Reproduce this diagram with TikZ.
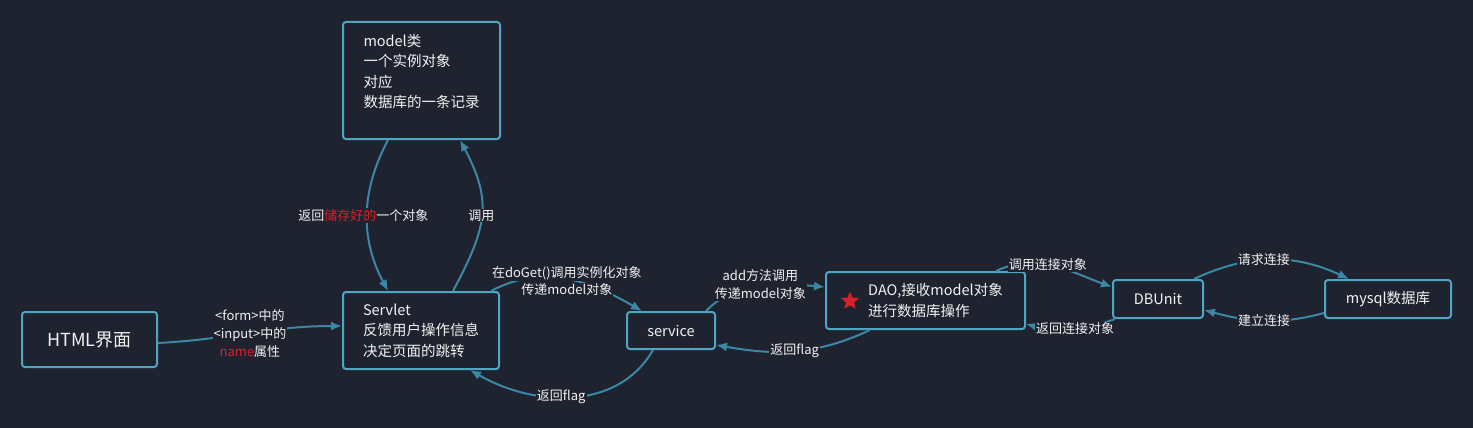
\documentclass[tikz,border=0pt]{standalone}
\usepackage{fontspec}
\setmainfont{Noto Sans CJK SC}
\usetikzlibrary{arrows.meta,positioning,shapes.geometric}
\definecolor{BgDark}{HTML}{1F2330}
\definecolor{BoxEdge}{HTML}{4EA6C2}
\definecolor{LinkBlue}{HTML}{3A88A5}
\definecolor{TextWhite}{HTML}{F2F2F2}
\definecolor{MarkRed}{HTML}{D8202A}
% one label line on its own dark patch
\newcommand{\lblline}[1]{{\setlength{\fboxsep}{1pt}\colorbox{BgDark}{#1}}}
\tikzset{
    % Base box style
    basenode/.style={
        draw=BoxEdge,
        fill=BgDark,
        line width=2pt,
        rounded corners=3pt,
        text=TextWhite,
        align=left,
        inner sep=0pt,
        font=\fontsize{14.5}{20.5}\selectfont
    },
    % Small box
    smallbox/.style={
        basenode,
        align=center,
        minimum height=37pt
    },
    % Connector
    myarrow/.style={
        -{Latex[length=11pt,width=9pt]},
        line width=2pt,
        draw=LinkBlue
    },
    % Connector label
    linklabel/.style={
        fill=BgDark,
        text=TextWhite,
        inner sep=1pt,
        align=center,
        font=\fontsize{13}{18}\selectfont
    }
}
\begin{document}
\begin{tikzpicture}[x=1pt,y=1pt]
    \path[use as bounding box, fill=BgDark] (0,0) rectangle (1473,-428);

    % Boxes
    \node[basenode, align=center, minimum width=135pt, minimum height=55pt,
          font=\fontsize{18}{22}\selectfont] (html) at (89.5,-339.5) {HTML界面};
    \node[basenode, minimum width=157pt, minimum height=117pt, text depth=19pt] (model) at (421.5,-80.5)
        {model类\\一个实例对象\\对应\\数据库的一条记录};
    \node[basenode, minimum width=156pt, minimum height=77pt] (servlet) at (421,-330.5)
        {Servlet\\反馈用户操作信息\\决定页面的跳转};
    \node[smallbox, minimum width=88pt] (service) at (671,-330.5) {service};
    \node[basenode, minimum width=199pt, minimum height=57pt] (dao) at (925.5,-300.5)
        {\hspace*{20pt}DAO,接收model对象\\\hspace*{20pt}进行数据库操作};
    \node[star, star points=5, star point ratio=2.2, fill=MarkRed, inner sep=0pt,
          minimum size=19pt] (daostar) at ([xshift=25pt,yshift=-0.5pt]dao.west) {};
    \node[smallbox, minimum width=90pt, minimum height=38pt] (dbunit) at (1158,-299) {DBUnit};
    \node[smallbox, minimum width=126pt, minimum height=38pt] (mysql) at (1388,-299) {mysql数据库};

    % Connectors
    \draw[myarrow] ([yshift=-3.5pt]html.east) to[out=3, in=180]
        node[linklabel] {<form>中的\\<input>中的\\\textcolor{MarkRed}{name}属性}
        ([yshift=4.5pt]servlet.west);
    \draw[myarrow] ([xshift=-33.5pt]model.south) to[out=-118, in=118]
        node[linklabel, pos=0.5, xshift=-4pt] {返回\textcolor{MarkRed}{储存好的}一个对象}
        ([xshift=-33pt]servlet.north);
    \draw[myarrow] ([xshift=32pt]servlet.north) to[out=62, in=-62, looseness=1.2]
        node[linklabel] {调用} ([xshift=38.5pt]model.south);
    \draw[myarrow] ([xshift=-9pt]servlet.north east) to[out=28, in=150]
        node[linklabel, fill=none, inner sep=0pt, pos=0.5, yshift=-2pt, font=\fontsize{13}{17}\selectfont]
        {\lblline{在doGet()调用实例化对象}\\\lblline{传递model对象}}
        ([xshift=-29pt]service.north);
    \draw[myarrow] ([xshift=-10pt]service.north east) to[out=45, in=175]
        node[linklabel, pos=0.5] {add方法调用\\传递model对象}
        ([yshift=13.5pt]dao.west);
    \draw[myarrow] ([xshift=-55.5pt]dao.south) to[out=-155, in=-10]
        node[linklabel, pos=0.5] {返回flag} ([yshift=-14.5pt]service.east);
    \draw[myarrow] ([xshift=-18pt]service.south) to[out=-120, in=-30]
        node[linklabel, pos=0.55] {返回flag} ([xshift=49pt]servlet.south);
    \draw[myarrow] ([xshift=-30pt]dao.north east) to[out=25, in=160]
        node[linklabel, pos=0.45] {调用连接对象} ([yshift=12pt]dbunit.west);
    \draw[myarrow] ([xshift=3pt]dbunit.south west) to[out=-160, in=-15]
        node[linklabel, pos=0.45] {返回连接对象} ([yshift=-23.5pt]dao.east);
    \draw[myarrow] ([xshift=-10pt]dbunit.north east) to[out=25, in=155]
        node[linklabel, pos=0.45] {请求连接} ([xshift=-39pt]mysql.north);
    \draw[myarrow] ([yshift=-14pt]mysql.west) to[out=-165, in=-15]
        node[linklabel, pos=0.5] {建立连接} ([yshift=-11pt]dbunit.east);
\end{tikzpicture}
\end{document}
